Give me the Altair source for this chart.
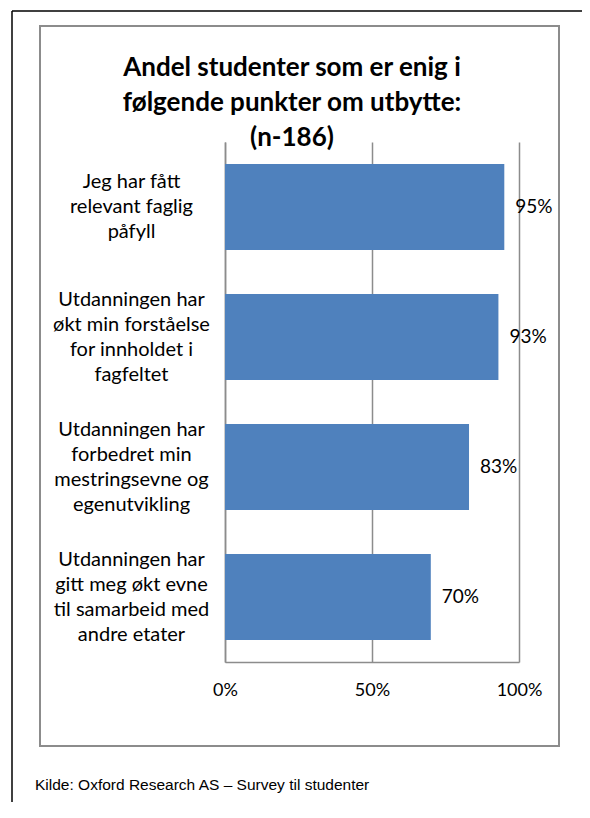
import altair as alt
import pandas as pd

categories = [
    "Jeg har fått|relevant faglig|påfyll",
    "Utdanningen har|økt min forståelse|for innholdet i|fagfeltet",
    "Utdanningen har|forbedret min|mestringsevne og|egenutvikling",
    "Utdanningen har|gitt meg økt evne|til samarbeid med|andre etater",
]
values = [95, 93, 83, 70]
x_ticks = [0, 50, 100]
title_lines = ["Andel studenter som er enig i", "følgende punkter om utbytte:", "(n-186)"]
source_text = "Kilde: Oxford Research AS – Survey til studenter"

df = pd.DataFrame({"cat": categories, "value": values})

FONT = "Lato"
GRAY = "#8c8c8c"
LH = 25

y_enc = alt.Y(
    "cat:N", sort=None, title=None,
    scale=alt.Scale(paddingInner=0.338, paddingOuter=0.169),
    axis=alt.Axis(
        labelExpr="split(datum.label, '|')", labelAlign="center", labelBaseline="middle",
        labelOffset={
            "condition": {"test": "indexof(datum.value, 'Jeg har') == 0", "value": -LH},
            "value": -1.5 * LH,
        },
        labelPadding=94, ticks=False, labelFont=FONT, labelFontSize=20, labelLineHeight=LH,
        labelColor="black", labelLimit=400, domainColor=GRAY, domainWidth=1.5,
    ),
)
x_enc = alt.X(
    "value:Q", title=None,
    scale=alt.Scale(domain=[0, 100], nice=False),
    axis=alt.Axis(
        values=x_ticks, labelExpr="datum.value + '%'", grid=True, gridColor=GRAY, gridWidth=1.5,
        ticks=False, domainColor=GRAY, domainWidth=1.5, labelFont=FONT, labelFontSize=18,
        labelColor="black", labelPadding=19, labelFlush=False,
    ),
)

bars = alt.Chart(df).mark_bar(color="#4F81BD").encode(y=y_enc, x=x_enc)
labels = alt.Chart(df).transform_calculate(lbl="datum.value + '%'").mark_text(
    align="left", baseline="middle", dx=11, font=FONT, fontSize=19, color="black"
).encode(y=alt.Y("cat:N", sort=None), x="value:Q", text="lbl:N")

deco = alt.Data(values=[{"a": 1}])
frame = alt.Chart(deco).mark_rect(fill="transparent", stroke=GRAY, strokeWidth=2).encode(
    x=alt.value(-185), x2=alt.value(334), y=alt.value(-116), y2=alt.value(604)
)
outer_top = alt.Chart(deco).mark_rule(color="black", strokeWidth=1.5).encode(
    x=alt.value(-213), x2=alt.value(360), y=alt.value(-131)
)
outer_left = alt.Chart(deco).mark_rule(color="black", strokeWidth=1.5).encode(
    x=alt.value(-213), y=alt.value(-131), y2=alt.value(662)
)
source = alt.Chart(deco).mark_text(
    align="left", baseline="alphabetic", font="Liberation Sans", fontSize=15.5, color="black"
).encode(x=alt.value(-190), y=alt.value(648), text=alt.value(source_text))
title = alt.Chart(deco).mark_text(
    align="center", baseline="alphabetic", font=FONT, fontSize=26, fontWeight="bold",
    lineHeight=35, color="black"
).encode(x=alt.value(67), y=alt.value(-66), text=alt.value(title_lines))

chart = alt.layer(frame, outer_top, outer_left, source, title, bars, labels).properties(
    width=294, height=520,
    autosize=alt.AutoSizeParams(type="none"),
    padding={"left": 217, "top": 134, "right": 63, "bottom": 140},
).configure_view(stroke=None)

chart.save("out.html", embed_options={"renderer": "svg", "actions": False})
